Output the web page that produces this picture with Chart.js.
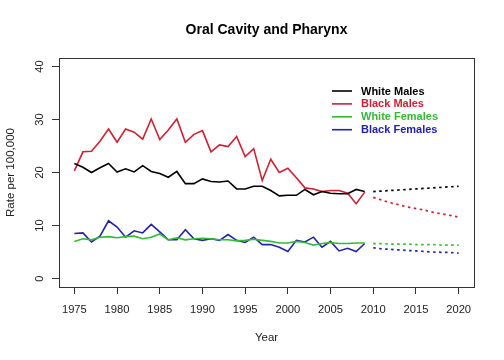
<!DOCTYPE html>
<html>
<head>
<meta charset="utf-8">
<script src="https://cdn.jsdelivr.net/npm/chart.js@4.4.1/dist/chart.umd.min.js"></script>
<style>
  html, body { margin: 0; padding: 0; background: #fff; }
  #wrap { width: 504px; height: 360px; }
</style>
</head>
<body>
<div id="wrap"><canvas id="chart"></canvas></div>
<script>
// observed rates, 1975-2009
const years = [1975, 1976, 1977, 1978, 1979, 1980, 1981, 1982, 1983, 1984, 1985, 1986,
  1987, 1988, 1989, 1990, 1991, 1992, 1993, 1994, 1995, 1996, 1997, 1998, 1999, 2000,
  2001, 2002, 2003, 2004, 2005, 2006, 2007, 2008, 2009];
const whiteMales = [21.7, 21.0, 20.0, 20.9, 21.7, 20.1, 20.7, 20.1, 21.3, 20.2, 19.8, 19.1,
  20.2, 17.9, 17.9, 18.8, 18.3, 18.2, 18.4, 16.9, 16.9, 17.4, 17.4, 16.6, 15.6, 15.7,
  15.7, 16.8, 15.8, 16.4, 16.1, 16.0, 16.0, 16.8, 16.4];
const blackMales = [20.3, 23.9, 24.0, 25.9, 28.2, 25.7, 28.2, 27.6, 26.3, 30.1, 26.2, 28.0,
  30.1, 25.7, 27.2, 27.9, 23.9, 25.2, 24.9, 26.8, 23.0, 24.5, 18.5, 22.5, 20.0, 20.8,
  19.0, 17.1, 16.9, 16.4, 16.6, 16.6, 16.1, 14.1, 16.3];
const whiteFemales = [7.0, 7.5, 7.3, 7.8, 7.9, 7.7, 7.9, 8.0, 7.5, 7.8, 8.4, 7.3,
  7.7, 7.3, 7.5, 7.6, 7.5, 7.3, 7.3, 7.1, 7.2, 7.4, 7.2, 7.0, 6.7, 6.7,
  7.0, 6.8, 6.3, 6.6, 6.8, 6.6, 6.6, 6.7, 6.7];
const blackFemales = [8.5, 8.6, 6.9, 8.0, 10.9, 9.7, 7.8, 9.0, 8.6, 10.2, 8.8, 7.3,
  7.3, 9.2, 7.5, 7.2, 7.5, 7.2, 8.3, 7.2, 6.8, 7.8, 6.4, 6.4, 5.9, 5.1,
  7.2, 6.9, 7.8, 5.9, 7.0, 5.2, 5.7, 5.1, 6.6];

// projected rates, 2010-2020
const projYears = [2010, 2011, 2012, 2013, 2014, 2015, 2016, 2017, 2018, 2019, 2020];
const whiteMalesProj = [16.4, 16.5, 16.6, 16.7, 16.8, 16.9, 17.0, 17.1, 17.2, 17.3, 17.4];
const blackMalesProj = [15.3, 14.8, 14.3, 13.9, 13.5, 13.2, 12.9, 12.5, 12.2, 11.9, 11.6];
const whiteFemalesProj = [6.6, 6.6, 6.5, 6.5, 6.5, 6.4, 6.4, 6.4, 6.3, 6.3, 6.3];
const blackFemalesProj = [5.8, 5.6, 5.5, 5.4, 5.3, 5.2, 5.1, 5.0, 4.95, 4.9, 4.8];

const xTicks = [1975, 1980, 1985, 1990, 1995, 2000, 2005, 2010, 2015, 2020];
const yTicks = [0, 10, 20, 30, 40];

const seriesNames = ['White Males', 'Black Males', 'White Females', 'Black Females'];
const colors = ['#000000', '#cc2233', '#33bb33', '#2222aa'];

const FONT = 'Liberation Sans, Arial, Helvetica, sans-serif';

const toPoints = (xs, ys) => xs.map((x, i) => ({ x: x, y: ys[i] }));

const observed = [whiteMales, blackMales, whiteFemales, blackFemales];
const projected = [whiteMalesProj, blackMalesProj, whiteFemalesProj, blackFemalesProj];

const datasets = [];
observed.forEach((vals, i) => {
    datasets.push({
        label: seriesNames[i],
        data: toPoints(years, vals),
        borderColor: colors[i],
        borderWidth: 1.6,
        pointRadius: 0,
        tension: 0,
        isLegend: true
    });
});
projected.forEach((vals, i) => {
    datasets.push({
        label: seriesNames[i] + ' (projected)',
        data: toPoints(projYears, vals),
        borderColor: colors[i],
        borderWidth: 1.7,
        borderDash: [2.5, 3.5],
        pointRadius: 0,
        tension: 0
    });
});

// R-style box round the plot area
const boxPlugin = {
    id: 'box',
    afterDraw(chart) {
        const { ctx, chartArea: a } = chart;
        ctx.save();
        ctx.strokeStyle = '#333';
        ctx.lineWidth = 1;
        ctx.strokeRect(Math.round(a.left) + 0.5, Math.round(a.top) + 0.5,
            Math.round(a.right - a.left), Math.round(a.bottom - a.top));
        ctx.restore();
    }
};

// legend without frame: line sample + coloured bold label
const legendPlugin = {
    id: 'rLegend',
    afterDraw(chart) {
        const { ctx } = chart;
        const x0 = 332, x1 = 352, tx = 361, y0 = 91, step = 12.9;
        ctx.save();
        ctx.font = 'bold 11px ' + FONT;
        ctx.textBaseline = 'middle';
        ctx.textAlign = 'left';
        chart.data.datasets.filter(d => d.isLegend).forEach((d, i) => {
            const y = y0 + i * step;
            ctx.strokeStyle = d.borderColor;
            ctx.lineWidth = 1.6;
            ctx.beginPath();
            ctx.moveTo(x0, y);
            ctx.lineTo(x1, y);
            ctx.stroke();
            ctx.fillStyle = d.borderColor;
            ctx.fillText(d.label, tx, y + 0.5);
        });
        ctx.restore();
    }
};

new Chart(document.getElementById('chart'), {
    type: 'line',
    data: { datasets: datasets },
    options: {
        responsive: true,
        maintainAspectRatio: false,
        animation: false,
        events: [],
        layout: { padding: { top: 0, right: 30, bottom: 0, left: 0 } },
        plugins: {
            legend: { display: false },
            tooltip: { enabled: false },
            title: {
                display: true,
                text: 'Oral Cavity and Pharynx',
                fullSize: false,
                color: '#000',
                font: { family: FONT, size: 14, weight: 'bold' },
                padding: { top: 22, bottom: 19.2 }
            }
        },
        scales: {
            x: {
                type: 'linear',
                min: 1973.2,
                max: 2021.8,
                afterBuildTicks: s => { s.ticks = xTicks.map(v => ({ value: v })); },
                afterFit: s => { s.height = 73; },
                grid: { drawOnChartArea: false, drawTicks: true, tickLength: 7, tickColor: '#333' },
                border: { display: false },
                ticks: {
                    color: '#222',
                    font: { family: FONT, size: 11.2 },
                    padding: 9,
                    maxRotation: 0,
                    autoSkip: false,
                    callback: v => String(v)
                },
                title: {
                    display: true,
                    text: 'Year',
                    color: '#222',
                    font: { family: FONT, size: 11.5 },
                    padding: { top: 0, bottom: 15 }
                }
            },
            y: {
                min: -1.6,
                max: 41.6,
                afterBuildTicks: s => { s.ticks = yTicks.map(v => ({ value: v })); },
                afterFit: s => { s.width = 59; },
                grid: { drawOnChartArea: false, drawTicks: true, tickLength: 7, tickColor: '#333' },
                border: { display: false },
                ticks: {
                    color: '#222',
                    font: { family: FONT, size: 11.2 },
                    padding: 6,
                    minRotation: 90,
                    maxRotation: 90,
                    crossAlign: 'center',
                    autoSkip: false,
                    callback: v => String(v)
                },
                title: {
                    display: true,
                    text: 'Rate per 100,000',
                    color: '#222',
                    font: { family: FONT, size: 11.5 },
                    padding: { top: 4, bottom: 0 }
                }
            }
        }
    },
    plugins: [boxPlugin, legendPlugin]
});
</script>
</body>
</html>
